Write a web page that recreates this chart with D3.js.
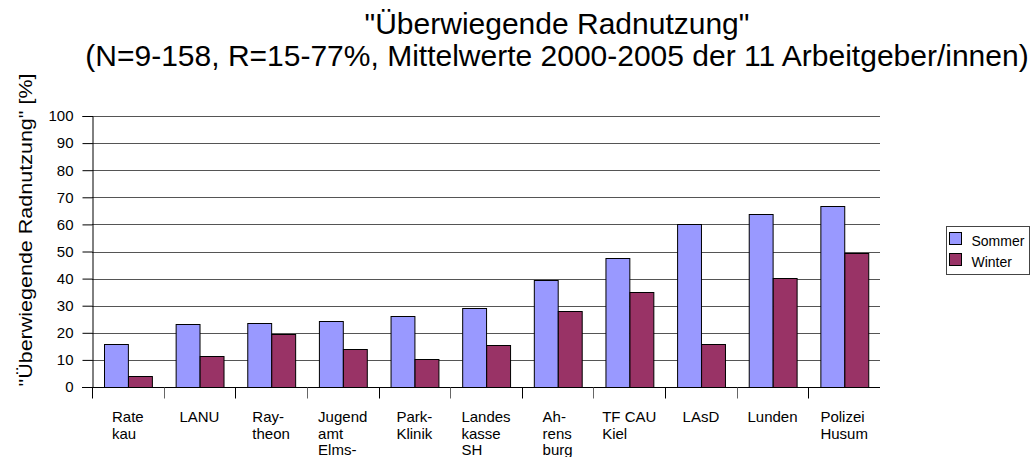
<!DOCTYPE html>
<meta charset="utf-8">
<script src="https://d3js.org/d3.v7.min.js"></script>
<style>
  body { margin: 0; background: #fff; }
  text { font-family: "Liberation Sans", Arial, sans-serif; fill: #000; }
</style>
<div id="viz"></div>
<script>

// data
const categories = ["Rate\nkau", "LANU", "Ray-\ntheon", "Jugend\namt\nElms-", "Park-\nKlinik",
  "Landes\nkasse\nSH", "Ah-\nrens\nburg", "TF CAU\nKiel", "LAsD", "Lunden", "Polizei\nHusum"];
const sommer = [16.0, 23.4, 23.8, 24.5, 26.2, 29.2, 39.3, 47.7, 60.3, 64.0, 66.9];
const winter = [4.2, 11.3, 19.4, 14.0, 10.5, 15.6, 28.2, 35.2, 15.8, 40.4, 49.3];
const seriesNames = ["Sommer", "Winter"];
const yTicks = [0, 10, 20, 30, 40, 50, 60, 70, 80, 90, 100];
const titleLines = ['"Überwiegende Radnutzung"',
  "(N=9-158, R=15-77%, Mittelwerte 2000-2005 der 11 Arbeitgeber/innen)"];
const yTitle = '"Überwiegende Radnutzung" [%]';

const colors = {Sommer: "#9999ff", Winter: "#993366"};

const W = 1031, H = 457;
const plot = {left: 92, right: 880, top: 116, bottom: 387};
const font = "'Liberation Sans', Arial, sans-serif";

const svg = d3.select("#viz").append("svg")
  .attr("width", W).attr("height", H);

const x = d3.scaleBand()
  .domain(categories)
  .range([plot.left, plot.right])
  .padding(0);

const xs = d3.scaleBand()
  .domain(seriesNames)
  .range([0, x.bandwidth()])
  .paddingInner(0)
  .paddingOuter(0.5);

const y = d3.scaleLinear()
  .domain([0, 100])
  .range([plot.bottom, plot.top]);

const crisp = v => Math.round(v) + 0.5;

// gridlines
svg.append("g")
  .selectAll("line")
  .data(yTicks.slice(1))
  .join("line")
    .attr("x1", plot.left).attr("x2", plot.right)
    .attr("y1", d => crisp(y(d))).attr("y2", d => crisp(y(d)))
    .attr("stroke", "#555").attr("stroke-width", 1);

// y axis
const yAxis = svg.append("g")
  .attr("transform", `translate(${crisp(plot.left)},0)`)
  .call(d3.axisLeft(y).tickValues(yTicks).tickSize(10).tickPadding(9));
yAxis.select(".domain").attr("stroke", "#000");
yAxis.selectAll(".tick line").attr("stroke", "#000");
yAxis.selectAll(".tick text")
  .style("font-size", "15px")
  .attr("font-family", font);

// bars
const groups = svg.append("g")
  .selectAll("g")
  .data(categories.map((c, i) => ({cat: c, Sommer: sommer[i], Winter: winter[i]})))
  .join("g")
    .attr("transform", d => `translate(${x(d.cat)},0)`);

groups.selectAll("rect")
  .data(d => seriesNames.map(s => ({key: s, value: d[s]})))
  .join("rect")
    .attr("x", d => Math.round(xs(d.key)) + 0.5)
    .attr("width", xs.bandwidth())
    .attr("y", d => Math.round(y(d.value)) + 0.5)
    .attr("height", d => Math.round(y(0)) - Math.round(y(d.value)))
    .attr("fill", d => colors[d.key])
    .attr("stroke", "#000")
    .attr("stroke-width", 1);

// x axis line + ticks at band boundaries
svg.append("line")
  .attr("x1", plot.left - 10).attr("x2", plot.right)
  .attr("y1", crisp(y(0))).attr("y2", crisp(y(0)))
  .attr("stroke", "#000");

const bounds = categories.map(c => x(c));
svg.append("g")
  .selectAll("line")
  .data(bounds)
  .join("line")
    .attr("x1", d => crisp(d)).attr("x2", d => crisp(d))
    .attr("y1", crisp(y(0))).attr("y2", crisp(y(0)) + 11)
    .attr("stroke", (d, i) => i % 2 ? "#666" : "#000");

// category labels: block centered on the band, lines left aligned
const labels = svg.append("g")
  .selectAll("text")
  .data(categories)
  .join("text")
    .style("font-size", "15px");
labels.each(function(c) {
  const t = d3.select(this);
  c.split("\n").forEach((line, i) => {
    t.append("tspan").attr("y", 422 + i * 16.6).text(line);
  });
  let maxW = 0;
  t.selectAll("tspan").each(function() {
    maxW = Math.max(maxW, this.getComputedTextLength());
  });
  const x0 = x(c) + x.bandwidth() / 2 - maxW / 2;
  t.selectAll("tspan").attr("x", x0);
});

// title
svg.append("text")
  .attr("text-anchor", "middle")
  .style("font-size", "30px")
  .selectAll("tspan")
  .data(titleLines)
  .join("tspan")
    .attr("x", 557)
    .attr("y", (d, i) => 34 + i * 31.5)
    .text(d => d);

// y axis title
svg.append("text")
  .attr("transform", "translate(32,230) rotate(-90)")
  .attr("text-anchor", "middle")
  .style("font-size", "19px")
  .attr("textLength", 313)
  .attr("lengthAdjust", "spacingAndGlyphs")
  .text(yTitle);

// legend
const legend = svg.append("g").attr("transform", "translate(946.5,226.5)");
legend.append("rect")
  .attr("width", 83).attr("height", 48)
  .attr("fill", "#fff").attr("stroke", "#444");
const items = legend.selectAll("g")
  .data(seriesNames)
  .join("g")
    .attr("transform", (d, i) => `translate(3,${6 + i * 21})`);
items.append("rect")
  .attr("width", 12).attr("height", 12)
  .attr("fill", d => colors[d]).attr("stroke", "#000");
items.append("text")
  .attr("x", 22).attr("y", 13)
  .style("font-size", "14px")
  .text(d => d);

</script>
